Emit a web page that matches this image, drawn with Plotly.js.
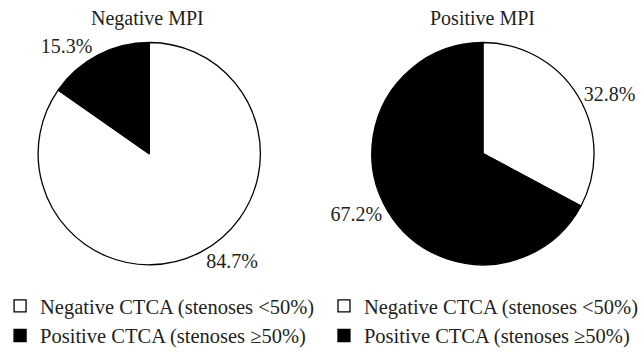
<!DOCTYPE html>
<html>
<head>
<meta charset="utf-8">
<script src="https://cdn.plot.ly/plotly-3.0.1.min.js"></script>
<style>html,body{margin:0;padding:0;background:#fff;}#chart{width:644px;height:356px;}</style>
</head>
<body>
<div id="chart"></div>
<script>
const categories = ["Negative CTCA (stenoses <50%)", "Positive CTCA (stenoses \u226550%)"];
const pieTitles = ["Negative MPI", "Positive MPI"];
const negativeMPI = [84.7, 15.3];
const positiveMPI = [32.8, 67.2];
const sliceColors = ["#ffffff", "#000000"];

const FONT = "Liberation Serif, Times New Roman, serif";
const TXT = "#231f20";

function pie(values, domainX, legendId, group) {
  return {
    type: "pie",
    labels: categories,
    values: values,
    sort: false,
    direction: "clockwise",
    rotation: 0,
    domain: {x: domainX, y: [0.2303, 0.8764]},
    marker: {colors: sliceColors, line: {color: "#000", width: 1.3}},
    textposition: "outside",
    texttemplate: "%{value:.1f}%",
    textfont: {family: FONT, size: 20, color: TXT},
    legend: legendId,
    legendgroup: group,
    showlegend: true,
    hoverinfo: "none"
  };
}

const data = [
  pie(negativeMPI, [0.0497, 0.4068], "legend", "neg"),
  pie(positiveMPI, [0.5776, 0.9348], "legend2", "pos")
];

const legendStyle = {
  orientation: "v",
  xanchor: "left", yanchor: "top",
  font: {family: FONT, size: 20.5, color: TXT},
  bgcolor: "rgba(0,0,0,0)",
  tracegroupgap: 0,
  itemclick: false
};

const layout = {
  width: 644, height: 356,
  margin: {l: 0, r: 0, t: 0, b: 0},
  paper_bgcolor: "#fff",
  showlegend: true,
  legend: Object.assign({x: -0.0078, y: 0.168}, legendStyle),
  legend2: Object.assign({x: 0.5047, y: 0.168}, legendStyle),
  annotations: [
    {text: pieTitles[0], x: 0.2258, y: 0.9466, xref: "paper", yref: "paper",
     xanchor: "center", yanchor: "middle", showarrow: false,
     font: {family: FONT, size: 20, color: TXT}},
    {text: pieTitles[1], x: 0.7562, y: 0.9466, xref: "paper", yref: "paper",
     xanchor: "center", yanchor: "middle", showarrow: false,
     font: {family: FONT, size: 20, color: TXT}}
  ]
};

Plotly.newPlot("chart", data, layout, {displayModeBar: false, staticPlot: true});
</script>
</body>
</html>
